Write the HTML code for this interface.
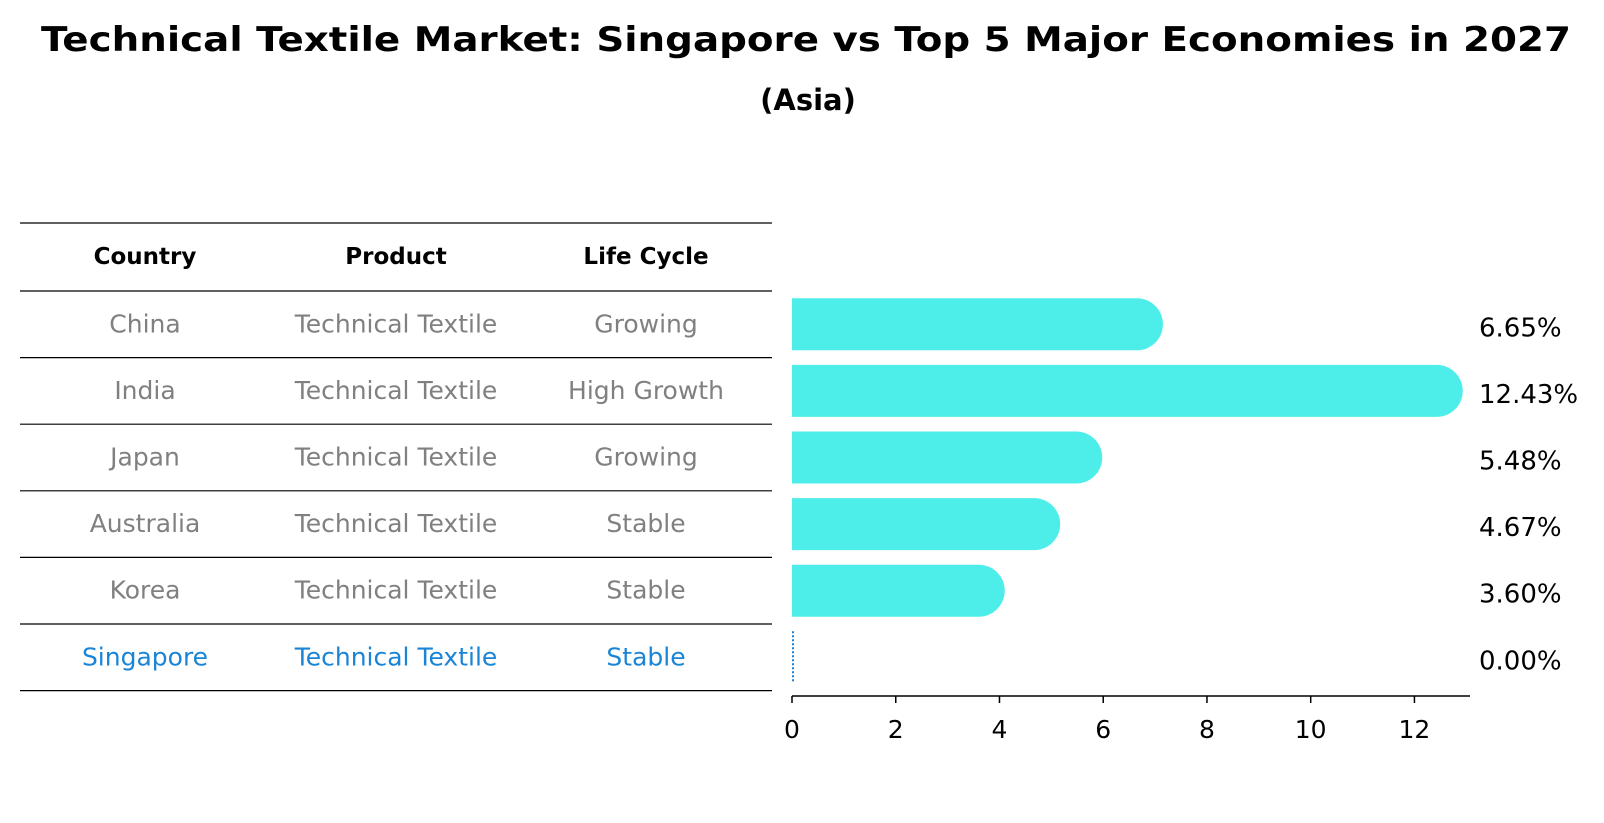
<!DOCTYPE html>
<html><head><meta charset="utf-8"><style>
body{margin:0;background:#fff;}
svg{display:block;font-family:"DejaVu Sans","Liberation Sans",sans-serif;}
</style></head><body>
<svg id="chart" width="1604" height="823" viewBox="0 0 1604 823">
<text x="806" y="51" text-anchor="middle" font-size="34" font-weight="bold" textLength="1530" lengthAdjust="spacingAndGlyphs">Technical Textile Market: Singapore vs Top 5 Major Economies in 2027</text>
<text x="808" y="110" text-anchor="middle" font-size="29" font-weight="bold">(Asia)</text>
<g id="table"></g>
<g id="bars"></g>
</svg>
<script>
const countries=["China","India","Japan","Australia","Korea","Singapore"];
const products=["Technical Textile","Technical Textile","Technical Textile","Technical Textile","Technical Textile","Technical Textile"];
const lifeCycles=["Growing","High Growth","Growing","Stable","Stable","Stable"];
const growth=[6.65,12.43,5.48,4.67,3.60,0.00];
const ticks=[0,2,4,6,8,10,12];
const NS="http://www.w3.org/2000/svg";
function mk(tag,attrs,parent,text){const e=document.createElementNS(NS,tag);for(const k in attrs)e.setAttribute(k,attrs[k]);if(text!==undefined)e.textContent=text;parent.appendChild(e);return e;}
const x0=792,unit=51.87;
const xs=v=>x0+v*unit;
const rowTop=291,rowH=66.6;
const ys=i=>rowTop+rowH*(i+0.5);
const table=document.getElementById('table');
const lineYs=[223,291];
for(let i=1;i<=countries.length;i++)lineYs.push(rowTop+rowH*i);
lineYs.forEach(y=>{const l=mk('line',{x1:20,x2:772,y1:y,y2:y,stroke:'#000','stroke-width':1.2},table);

});
const cols=[145,396,646];
["Country","Product","Life Cycle"].forEach((h,j)=>{const t=mk('text',{x:cols[j],y:264,'text-anchor':'middle','font-size':23,'font-weight':'bold'},table,h);

});
countries.forEach((c,i)=>{const col=c==="Singapore"?"#1a85d6":"#808080";
[c,products[i],lifeCycles[i]].forEach((v,j)=>{const t=mk('text',{x:cols[j],y:ys(i)+8,'text-anchor':'middle','font-size':25,fill:col},table,v);

});});
const bars=document.getElementById('bars');
const bh=52,r=26;
growth.forEach((v,i)=>{const y=ys(i)-bh/2;
if(v>0){const p=mk('path',{d:`M${x0},${y} H${xs(v)} A${r},${r} 0 0 1 ${xs(v)},${y+bh} H${x0} Z`,fill:'#4deeea'},bars);

}
else{const l=mk('line',{x1:x0+1,x2:x0+1,y1:y,y2:y+bh,stroke:'#1a7fd4','stroke-width':2,'stroke-dasharray':'2,2'},bars);

}
const t=mk('text',{x:1479,y:ys(i)+12,'font-size':26},bars,v.toFixed(2)+'%');

});
const ax=mk('line',{x1:x0,x2:1470,y1:696,y2:696,stroke:'#000','stroke-width':1.5},bars);


ticks.forEach(t=>{const l=mk('line',{x1:xs(t),x2:xs(t),y1:696,y2:703,stroke:'#000','stroke-width':1.5},bars);


const tx=mk('text',{x:xs(t),y:738,'text-anchor':'middle','font-size':25},bars,String(t));

});
</script>
</body></html>
